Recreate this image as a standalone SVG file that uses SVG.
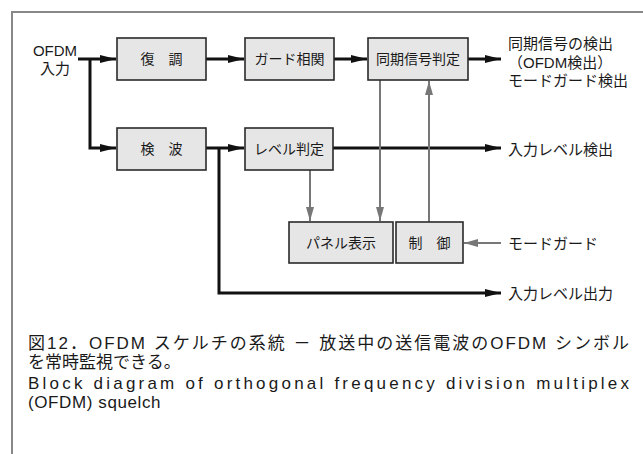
<svg xmlns="http://www.w3.org/2000/svg" width="643" height="454" viewBox="0 0 643 454">
<style>
.box{fill:#e6e6e6;stroke:#2a2a2a;stroke-width:1.6}
.lbl{font-family:"Liberation Sans","Noto Sans CJK JP",sans-serif;font-size:14px;fill:#1a1a1a;text-anchor:middle;dominant-baseline:central}
.side{font-family:"Liberation Sans","Noto Sans CJK JP",sans-serif;font-size:15px;fill:#1a1a1a;dominant-baseline:central}
.cap{font-family:"Liberation Sans","Noto Sans CJK JP",sans-serif;font-size:17px;fill:#1a1a1a}
.blk{fill:none;stroke:#111;stroke-width:3}
.gry{fill:none;stroke:#777;stroke-width:2}
</style>
<defs>
<marker id="ab" markerUnits="userSpaceOnUse" markerWidth="16" markerHeight="10" refX="16" refY="5" orient="auto"><path d="M0,1 L16,5 L0,9 Z" fill="#111"/></marker>
<marker id="ag" markerUnits="userSpaceOnUse" markerWidth="14" markerHeight="10" refX="14" refY="5" orient="auto"><path d="M0,1 L14,5 L0,9 Z" fill="#777"/></marker>
</defs>
<path d="M12,454 V12 H643" fill="none" stroke="#888" stroke-width="2"/>
<g id="connectors">
<path class="blk" d="M78,59 H116" marker-end="url(#ab)"/>
<path class="blk" d="M90,59 V148 H116" marker-end="url(#ab)"/>
<path class="blk" d="M206,59 H244" marker-end="url(#ab)"/>
<path class="blk" d="M334,59 H367" marker-end="url(#ab)"/>
<path class="blk" d="M468,59 H501" marker-end="url(#ab)"/>
<path class="blk" d="M206,148 H244" marker-end="url(#ab)"/>
<path class="blk" d="M219,148 V293 H501" marker-end="url(#ab)"/>
<path class="blk" d="M333,148 H501" marker-end="url(#ab)"/>
<path class="gry" d="M310,170 V221" marker-end="url(#ag)"/>
<path class="gry" d="M380,80 V221" marker-end="url(#ag)"/>
<path class="gry" d="M429,222 V81" marker-end="url(#ag)"/>
<path class="gry" d="M501,243 H464" marker-end="url(#ag)"/>
</g>
<g id="input"><text class="side" x="55" y="50" text-anchor="middle">OFDM</text><text class="side" x="55" y="68" text-anchor="middle">入力</text></g>
<g id="demod"><rect class="box" x="117" y="38" width="89" height="42"/><text class="lbl" x="161.5" y="59">復　調</text></g>
<g id="guard"><rect class="box" x="245" y="38" width="89" height="42"/><text class="lbl" x="289.5" y="59">ガード相関</text></g>
<g id="sync"><rect class="box" x="368" y="38" width="100" height="42"/><text class="lbl" x="418" y="59">同期信号判定</text></g>
<g id="detect"><rect class="box" x="117" y="128" width="89" height="42"/><text class="lbl" x="161.5" y="149">検　波</text></g>
<g id="level"><rect class="box" x="245" y="128" width="88" height="42"/><text class="lbl" x="289" y="149">レベル判定</text></g>
<g id="panel"><rect class="box" x="289" y="222" width="104" height="41"/><text class="lbl" x="341" y="243">パネル表示</text></g>
<g id="control"><rect class="box" x="396" y="222" width="67" height="41"/><text class="lbl" x="429.5" y="243">制　御</text></g>
<g id="out-sync"><text class="side" x="508" y="43">同期信号の検出</text><text class="side" x="508" y="62">（OFDM検出）</text><text class="side" x="508" y="80">モードガード検出</text></g>
<g id="out-level"><text class="side" x="508" y="149">入力レベル検出</text></g>
<g id="in-mode"><text class="side" x="508" y="243">モードガード</text></g>
<g id="out-levelout"><text class="side" x="508" y="293">入力レベル出力</text></g>
<g id="caption">
<text class="cap" x="28" y="349" textLength="601" lengthAdjust="spacing">図12．OFDM スケルチの系統 － 放送中の送信電波のOFDM シンボル</text>
<text class="cap" x="28" y="368">を常時監視できる。</text>
<text class="cap" x="28" y="389" textLength="601" lengthAdjust="spacing">Block diagram of orthogonal frequency division multiplex</text>
<text class="cap" x="28" y="408" letter-spacing="0.6">(OFDM) squelch</text>
</g>
</svg>
